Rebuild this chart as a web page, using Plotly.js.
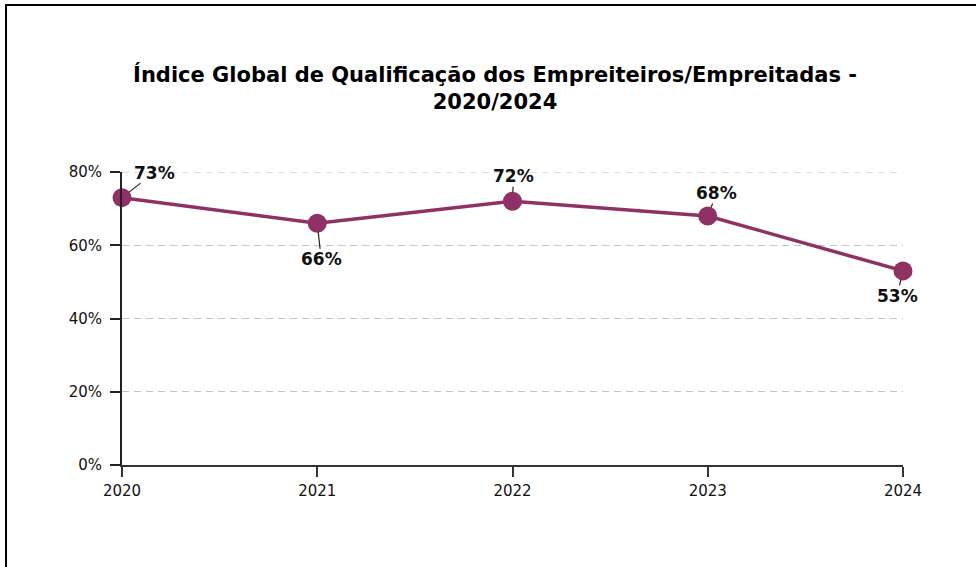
<!DOCTYPE html>
<html>
<head>
<meta charset="utf-8">
<script src="https://cdn.plot.ly/plotly-3.0.1.min.js"></script>
<style>html,body{margin:0;padding:0;background:#fff;}#chart{width:976px;height:567px;}</style>
</head>
<body>
<div id="chart"></div>
<script>
const years = [2020, 2021, 2022, 2023, 2024];
const values = [73, 66, 72, 68, 53];
const labels = ["73%", "66%", "72%", "68%", "53%"];
const yTicks = [0, 20, 40, 60, 80];
const yTickLabels = ["0%", "20%", "40%", "60%", "80%"];
const labelOffsetX = [32, 4, 1, 9, -6];
const labelOffsetY = [-25, 36, -25, -23, 25];

const color = "#8f3165";
const font = "DejaVu Sans, sans-serif";
const gridColor = "#c4c4c4";
const gridDash = "7px,5px";

const annotations = years.map((yr, i) => ({
  x: yr, y: values[i], xref: "x", yref: "y",
  text: "<b>" + labels[i] + "</b>",
  showarrow: true, arrowhead: 0, arrowwidth: 1.2, arrowcolor: "#222",
  ax: labelOffsetX[i], ay: labelOffsetY[i], standoff: 9,
  borderpad: 0,
  font: {family: font, size: 17, color: "#111"}
}));

const data = [{
  x: years, y: values, type: "scatter", mode: "lines+markers",
  line: {color: color, width: 3.5},
  marker: {color: color, size: 19},
  cliponaxis: false, hoverinfo: "skip"
}];

const yMax = Math.max(...yTicks);

const layout = {
  width: 976, height: 567,
  margin: {l: 122, r: 73, t: 172, b: 102},
  paper_bgcolor: "#fff", plot_bgcolor: "#fff",
  showlegend: false,
  title: {
    text: "<b>Índice Global de Qualificação dos Empreiteiros/Empreitadas -<br>2020/2024</b>",
    x: 0.5072, xanchor: "center", xref: "container",
    y: 0.8554, yanchor: "middle", yref: "container",
    font: {family: font, size: 21, color: "#000"}
  },
  xaxis: {
    range: [2020, 2024], tickvals: years, ticktext: years.map(String),
    showgrid: false, zeroline: false,
    showline: true, linecolor: "#333", linewidth: 2,
    ticks: "outside", ticklen: 10, tickwidth: 2, tickcolor: "#333",
    ticklabelstandoff: 1,
    tickfont: {family: font, size: 15, color: "#111"}
  },
  yaxis: {
    range: [0, yMax], tickvals: yTicks, ticktext: yTickLabels,
    showgrid: true, gridcolor: gridColor, griddash: gridDash, gridwidth: 1.2,
    zeroline: false,
    showline: true, linecolor: "#222", linewidth: 2,
    ticks: "outside", ticklen: 10, tickwidth: 2, tickcolor: "#222",
    ticklabelstandoff: 5,
    tickfont: {family: font, size: 15, color: "#111"}
  },
  annotations: annotations,
  shapes: [
    {type: "line", xref: "paper", yref: "y", x0: 0, x1: 1, y0: yMax, y1: yMax, line: {color: gridColor, width: 1.2, dash: gridDash}, layer: "below"},
    {type: "line", xref: "paper", yref: "paper", x0: -0.1485, x1: -0.1485, y0: -1, y1: 1.5734, line: {color: "#000", width: 2}, layer: "above"},
    {type: "line", xref: "paper", yref: "paper", x0: -0.1497, x1: 1.2, y0: 1.5700, y1: 1.5700, line: {color: "#000", width: 2}, layer: "above"}
  ]
};

Plotly.newPlot("chart", data, layout, {displayModeBar: false, staticPlot: true});
</script>
</body>
</html>
